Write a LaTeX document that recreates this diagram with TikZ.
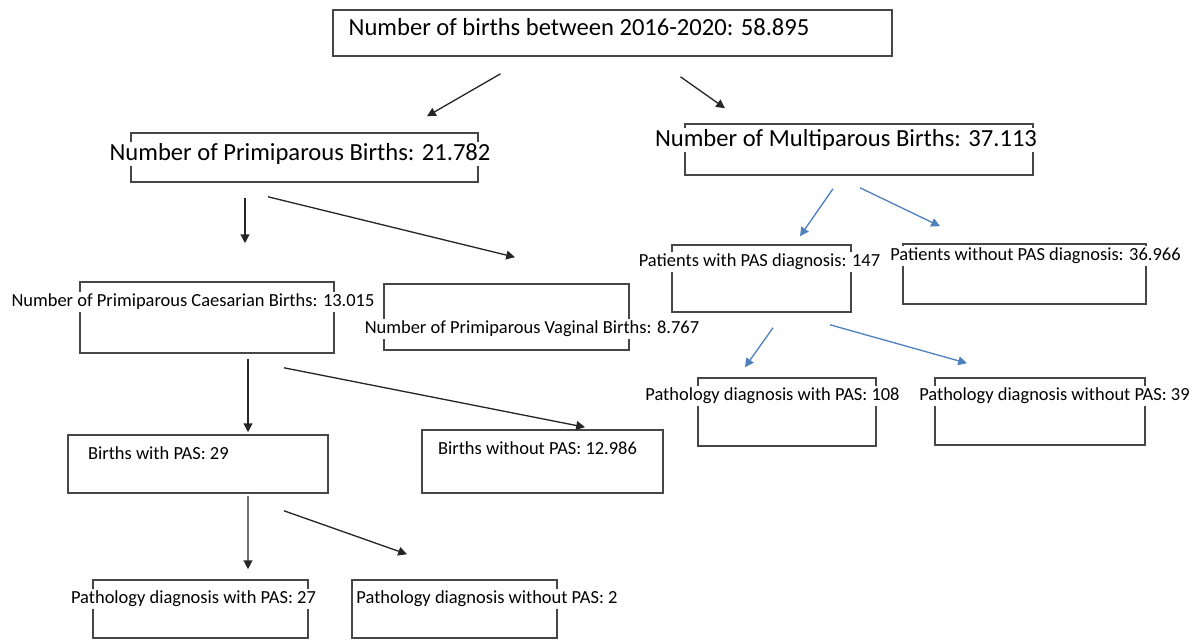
\documentclass[tikz,border=0pt]{standalone}
\usepackage{fontspec}
\setmainfont{Carlito}
\usepackage{tikz}
\usetikzlibrary{arrows.meta,fit}
\definecolor{boxGray}{RGB}{70,70,70}
\definecolor{arrBlue}{RGB}{79,129,189}
\begin{document}
\begin{tikzpicture}[x=0.02cm,y=-0.02cm,
  box/.style={draw=boxGray,line width=0.9pt,inner sep=0pt},
  big/.style={fill=white,inner sep=1pt,font=\fontsize{14}{16}\selectfont},
  small/.style={fill=white,inner sep=1pt,font=\fontsize{10.5}{12}\selectfont},
  arr/.style={-{Triangle[length=5pt,width=5pt]},line width=0.75pt,black!85},
  barr/.style={-{Triangle[length=5pt,width=5pt]},line width=0.75pt,arrBlue}]
\useasboundingbox (0,0) rectangle (1203,639);
\node[box,fit={(333,10) (892,56)}] (top) {};
\node[box,fit={(131,133) (478,182)}] (prim) {};
\node[box,fit={(685,124) (1033,175)}] (multi) {};
\node[box,fit={(672,245) (851,312)}] (paswith) {};
\node[box,fit={(903,244) (1146,304)}] (paswithout) {};
\node[box,fit={(80,282) (334,353)}] (caes) {};
\node[box,fit={(384,284) (629,350)}] (vag) {};
\node[box,fit={(698,378) (876,446)}] (pw108) {};
\node[box,fit={(935,378) (1145,445)}] (pwo39) {};
\node[box,fit={(68,435) (328,493)}] (bwith) {};
\node[box,fit={(422,430) (663,493)}] (bwithout) {};
\node[box,fit={(93,580) (308,638)}] (pw27) {};
\node[box,fit={(352,580) (557,638)}] (pwo2) {};
\node[big] (topT) at (579,27) {Number of births between 2016-2020: 58.895};
\node[big] (primT) at (300,154) {Number of Primiparous Births: 21.782};
\node[big] (multiT) at (846,140) {Number of Multiparous Births: 37.113};
\node[small] (paswithT) at (759.5,262) {Patients with PAS diagnosis: 147};
\node[small] (paswithoutT) at (1035.5,256) {Patients without PAS diagnosis: 36.966};
\node[small] (caesT) at (193,302) {Number of Primiparous Caesarian Births: 13.015};
\node[small] (vagT) at (532,329) {Number of Primiparous Vaginal Births: 8.767};
\node[small] (pw108T) at (772.5,396) {Pathology diagnosis with PAS: 108};
\node[small] (pwo39T) at (1054.5,396) {Pathology diagnosis without PAS: 39};
\node[small,anchor=west] (bwithT) at (86,453) {Births with PAS: 29};
\node[small,anchor=west] (bwithoutT) at (436,448) {Births without PAS: 12.986};
\node[small] (pw27T) at (193.5,599) {Pathology diagnosis with PAS: 27};
\node[small] (pwo2T) at (487,599) {Pathology diagnosis without PAS: 2};
\draw[arr] ([shift={(-112,17)}]top.south) -- ([shift={(122.5,-16)}]prim.north);
\draw[arr] ([shift={(68,20)}]top.south) -- ([shift={(-134,-15)}]multi.north);
\draw[arr] ([shift={(-59.5,15)}]prim.south) -- ([shift={(38,-38)}]caes.north);
\draw[arr] ([shift={(-36.5,14)}]prim.south) -- ([shift={(8.5,-26)}]vag.north);
\draw[barr] ([shift={(-26,13)}]multi.south) -- ([shift={(38.5,-8)}]paswith.north);
\draw[barr] ([shift={(1,12)}]multi.south) -- ([shift={(-84.5,-17)}]paswithout.north);
\draw[arr] ([shift={(41,5)}]caes.south) -- ([shift={(50,-2)}]bwith.north);
\draw[arr] ([shift={(77,14)}]caes.south) -- ([shift={(42.5,-2)}]bwithout.north);
\draw[arr] ([shift={(50,2)}]bwith.south) -- ([shift={(47.5,-10)}]pw27.north);
\draw[arr] ([shift={(86,17)}]bwith.south) -- ([shift={(-47.5,-25)}]pwo2.north);
\draw[barr] ([shift={(11.5,15)}]paswith.south) -- ([shift={(-42,-10)}]pw108.north);
\draw[barr] ([shift={(68.5,12)}]paswith.south) -- ([shift={(-73,-14)}]pwo39.north);
\end{tikzpicture}
\end{document}
